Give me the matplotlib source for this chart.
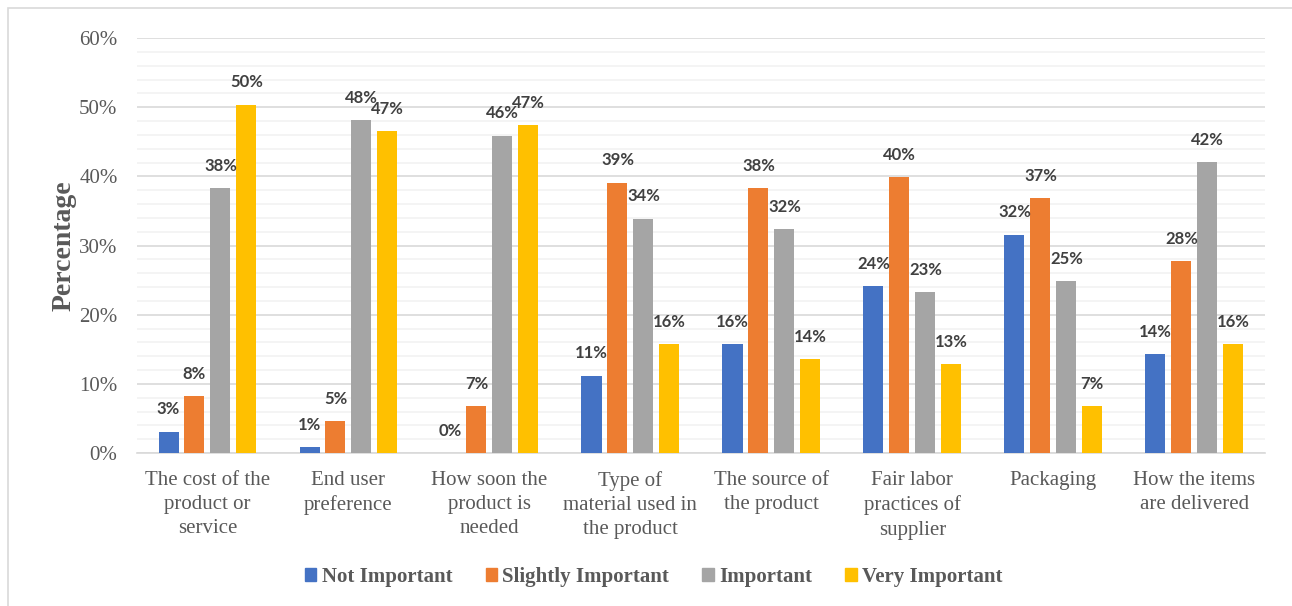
import numpy as np
import matplotlib
matplotlib.use("Agg")
import matplotlib.pyplot as plt
from matplotlib.patches import Rectangle, Patch
from matplotlib.ticker import MultipleLocator, PercentFormatter

# ================== DATA ===================
categories = [
    "The cost of the\nproduct or\nservice",
    "End user\npreference",
    "How soon the\nproduct is\nneeded",
    "Type of\nmaterial used in\nthe product",
    "The source of\nthe product",
    "Fair labor\npractices of\nsupplier",
    "Packaging",
    "How the items\nare delivered",
]
series_names = ["Not Important", "Slightly Important", "Important", "Very Important"]
not_important = [3.1, 0.8, 0.0, 11.2, 15.8, 24.1, 31.6, 14.3]
slightly_important = [8.2, 4.6, 6.8, 39.1, 38.3, 39.9, 36.9, 27.8]
important = [38.3, 48.1, 45.9, 33.9, 32.4, 23.3, 24.9, 42.1]
very_important = [50.4, 46.6, 47.4, 15.8, 13.6, 12.8, 6.8, 15.8]
colors = ["#4472C4", "#ED7D31", "#A5A5A5", "#FFC000"]

# ================== FIGURE ===================
fig = plt.figure(figsize=(12.92, 6.06), dpi=100)
ax = fig.add_axes([0.106, 0.2525, 0.873, 0.6845])

# outer chart border
fig.patches.append(Rectangle((8 / 1292, -0.01), 1.1, 1 - 8 / 606 + 0.01,
                             transform=fig.transFigure, fill=False,
                             edgecolor="#D9D9D9", lw=1.2))

x = np.arange(len(categories))
width = 0.142
step = 0.184
all_series = [not_important, slightly_important, important, very_important]

for i, (vals, name, col) in enumerate(zip(all_series, series_names, colors)):
    pos = x + (i - 1.5) * step
    ax.bar(pos, vals, width=width, color=col, label=name, zorder=3)
    for px, v in zip(pos, vals):
        ax.annotate(f"{v:.0f}%", (px, v), xytext=(0, 16), textcoords="offset points",
                    ha="center", va="center", fontsize=12, fontweight="bold",
                    family="Lato", color="#404040", zorder=4)

ax.set_xlim(-0.5, len(categories) - 0.5)
ax.set_ylim(0, 60)
ax.yaxis.set_major_locator(MultipleLocator(10))
ax.yaxis.set_minor_locator(MultipleLocator(2))
ax.yaxis.set_major_formatter(PercentFormatter(decimals=0))
ax.grid(axis="y", which="major", color="#D9D9D9", lw=1.2, zorder=0)
ax.grid(axis="y", which="minor", color="#F2F2F2", lw=1.2, zorder=0)
ax.set_axisbelow(True)

for s in ["top", "right", "left"]:
    ax.spines[s].set_visible(False)
ax.spines["bottom"].set_color("#D9D9D9")
ax.spines["bottom"].set_linewidth(1.2)

ax.set_xticks(x)
ax.set_xticklabels(categories, family="Liberation Serif", fontsize=15,
                   color="#595959", linespacing=1.37)
ax.tick_params(axis="x", length=0, pad=13)
ax.tick_params(axis="y", which="both", length=0, pad=14,
               labelsize=15, labelcolor="#595959")
for lbl in ax.get_yticklabels():
    lbl.set_family("Liberation Serif")

ax.set_ylabel("Percentage", family="Liberation Serif", fontsize=20,
              fontweight="bold", color="#595959", labelpad=2)

handles = [Patch(color=c) for c in colors]
fig.legend(handles, series_names, loc="center", bbox_to_anchor=(0.506, 0.048),
           ncol=4, frameon=False, handlelength=0.55, handleheight=0.55,
           handletextpad=0.25, columnspacing=1.6,
           prop={"family": "Liberation Serif", "size": 15, "weight": "bold"},
           labelcolor="#595959")

fig.savefig("out.png", dpi=100)
